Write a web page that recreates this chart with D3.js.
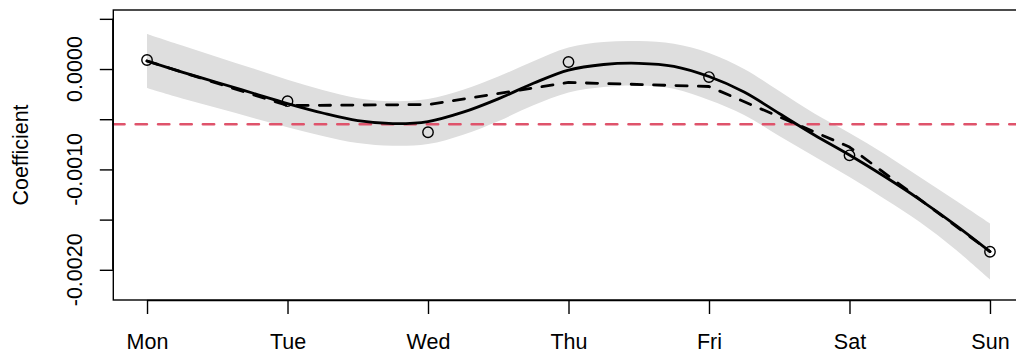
<!DOCTYPE html>
<html>
<head>
<meta charset="utf-8">
<script src="https://cdn.jsdelivr.net/npm/d3@7"></script>
<style>
  html, body { margin: 0; padding: 0; background: #fff; }
  svg { display: block; }
  text { font-family: "Liberation Sans", Arial, Helvetica, sans-serif; fill: #000; }
</style>
</head>
<body>
<svg id="chart" width="1016" height="358"></svg>
<script>
// Day-of-week effects
const days = ["Mon", "Tue", "Wed", "Thu", "Fri", "Sat", "Sun"];
const dayCoef = [0.00009, -0.00032, -0.00063, 0.00007, -0.00008, -0.00086, -0.00182];

// Smooth fit with confidence band, evaluated every quarter day
const fitT = [0, 0.25, 0.5, 0.75, 1, 1.25, 1.5, 1.75, 2, 2.25, 2.5, 2.75, 3,
              3.25, 3.5, 3.75, 4, 4.25, 4.5, 4.75, 5, 5.25, 5.5, 5.75, 6];
const fitValue = [0.00008, -0.00003, -0.000134, -0.000239, -0.000344, -0.000438, -0.000514,
                  -0.000543, -0.000523, -0.00043, -0.000297, -0.000142, -0.00001, 0.000045,
                  0.000057, 0.000027, -0.000075, -0.000229, -0.000443, -0.000657, -0.000857,
                  -0.001071, -0.0013, -0.001549, -0.001818];
const fitUpper = [0.000349, 0.000234, 0.000121, 0.000008, -0.000107, -0.000209, -0.00029,
                  -0.000321, -0.000299, -0.000206, -0.000075, 0.000077, 0.000214, 0.000269,
                  0.000278, 0.000251, 0.000159, 0.0, -0.000219, -0.000443, -0.000637,
                  -0.000847, -0.001076, -0.001305, -0.001539];
const fitLower = [-0.000189, -0.000294, -0.000389, -0.000486, -0.000581, -0.000667, -0.000738,
                  -0.000765, -0.000747, -0.000654, -0.000519, -0.000362, -0.000234, -0.000179,
                  -0.000164, -0.000197, -0.000309, -0.000458, -0.000667, -0.000872, -0.001076,
                  -0.001295, -0.001524, -0.001793, -0.002097];

// Alternative fit, one value per day
const altFit = [0.00008, -0.000364, -0.000354, -0.000134, -0.000174, -0.000777, -0.001818];

// Reference level
const refLevel = -0.00055;

// Axis ticks
const yTicks = [0.0005, 0, -0.0005, -0.001, -0.0015, -0.002];
const yTickLabels = ["", "0.0000", "", "-0.0010", "", "-0.0020"];
const yTitle = "Coefficient";

const svg = d3.select("#chart");
const plotLeft = 113.3, plotRight = 1023.7, plotTop = 10, plotBottom = 300;

const x = d3.scaleLinear().domain([-0.24, 6.24]).range([plotLeft, plotRight]);
const y = d3.scaleLinear().domain([-0.0023008, 0.000588]).range([plotBottom, plotTop]);

const fontSize = 21.5;

// Confidence band
const band = fitT.map((t, i) => ({ t, lo: fitLower[i], hi: fitUpper[i] }));
svg.append("path")
  .datum(band)
  .attr("fill", "#dedede")
  .attr("stroke", "none")
  .attr("d", d3.area()
    .x(d => x(d.t))
    .y0(d => y(d.lo))
    .y1(d => y(d.hi))
    .curve(d3.curveCatmullRom));

// Reference line
svg.append("line")
  .attr("x1", plotLeft).attr("x2", plotRight)
  .attr("y1", y(refLevel)).attr("y2", y(refLevel))
  .attr("stroke", "#DF536B")
  .attr("stroke-width", 2.7)
  .attr("stroke-dasharray", "11.2,11.2")
  .attr("stroke-linecap", "round");

// Alternative fit (dashed)
svg.append("path")
  .datum(altFit.map((v, i) => ({ t: i, v })))
  .attr("fill", "none")
  .attr("stroke", "#000")
  .attr("stroke-width", 2.8)
  .attr("stroke-dasharray", "11.2,11.2")
  .attr("stroke-linecap", "round")
  .attr("stroke-linejoin", "round")
  .attr("d", d3.line().x(d => x(d.t)).y(d => y(d.v)));

// Smooth fit (solid)
svg.append("path")
  .datum(fitT.map((t, i) => ({ t, v: fitValue[i] })))
  .attr("fill", "none")
  .attr("stroke", "#000")
  .attr("stroke-width", 2.8)
  .attr("stroke-linecap", "round")
  .attr("stroke-linejoin", "round")
  .attr("d", d3.line().x(d => x(d.t)).y(d => y(d.v)).curve(d3.curveCatmullRom));

// Day estimates as open circles
svg.append("g")
  .selectAll("circle")
  .data(dayCoef)
  .join("circle")
  .attr("cx", (d, i) => x(i))
  .attr("cy", d => y(d))
  .attr("r", 5.2)
  .attr("fill", "none")
  .attr("stroke", "#000")
  .attr("stroke-width", 1.4);

// Plot frame
svg.append("rect")
  .attr("x", plotLeft).attr("y", plotTop)
  .attr("width", plotRight - plotLeft).attr("height", plotBottom - plotTop)
  .attr("fill", "none")
  .attr("stroke", "#000")
  .attr("stroke-width", 1.4);

// Bottom axis
const xAxis = d3.axisBottom(x)
  .tickValues(d3.range(days.length))
  .tickFormat(i => days[i])
  .tickSize(14)
  .tickSizeOuter(0)
  .tickPadding(20);
const gx = svg.append("g").attr("transform", `translate(0,${plotBottom})`).call(xAxis);
gx.select(".domain")
  .attr("d", `M${x(0)},0.5H${x(days.length - 1)}`)
  .attr("stroke-width", 1.4);
gx.selectAll(".tick line").attr("stroke-width", 1.4);
gx.selectAll(".tick text")
  .attr("dy", null)
  .attr("y", 49)
  .style("font-size", fontSize + "px")
  .style("font-family", '"Liberation Sans", Arial, Helvetica, sans-serif');

// Left axis: tick marks from the axis, rotated labels placed by the scale
const yAxis = d3.axisLeft(y)
  .tickValues(yTicks)
  .tickFormat(() => "")
  .tickSize(13.5)
  .tickSizeOuter(0);
const gy = svg.append("g").attr("transform", `translate(${plotLeft},0)`).call(yAxis);
gy.select(".domain")
  .attr("d", `M-0.5,${y(yTicks[yTicks.length - 1])}V${y(yTicks[0])}`)
  .attr("stroke-width", 1.4);
gy.selectAll(".tick line").attr("stroke-width", 1.4);

svg.append("g")
  .selectAll("text")
  .data(yTicks.map((v, i) => ({ v, label: yTickLabels[i] })).filter(d => d.label))
  .join("text")
  .attr("transform", d => `translate(82,${y(d.v)}) rotate(-90)`)
  .attr("text-anchor", "middle")
  .style("font-size", fontSize + "px")
  .text(d => d.label);

svg.append("text")
  .attr("transform", `translate(28,${(plotTop + plotBottom) / 2}) rotate(-90)`)
  .attr("text-anchor", "middle")
  .style("font-size", fontSize + "px")
  .text(yTitle);
</script>
</body>
</html>
